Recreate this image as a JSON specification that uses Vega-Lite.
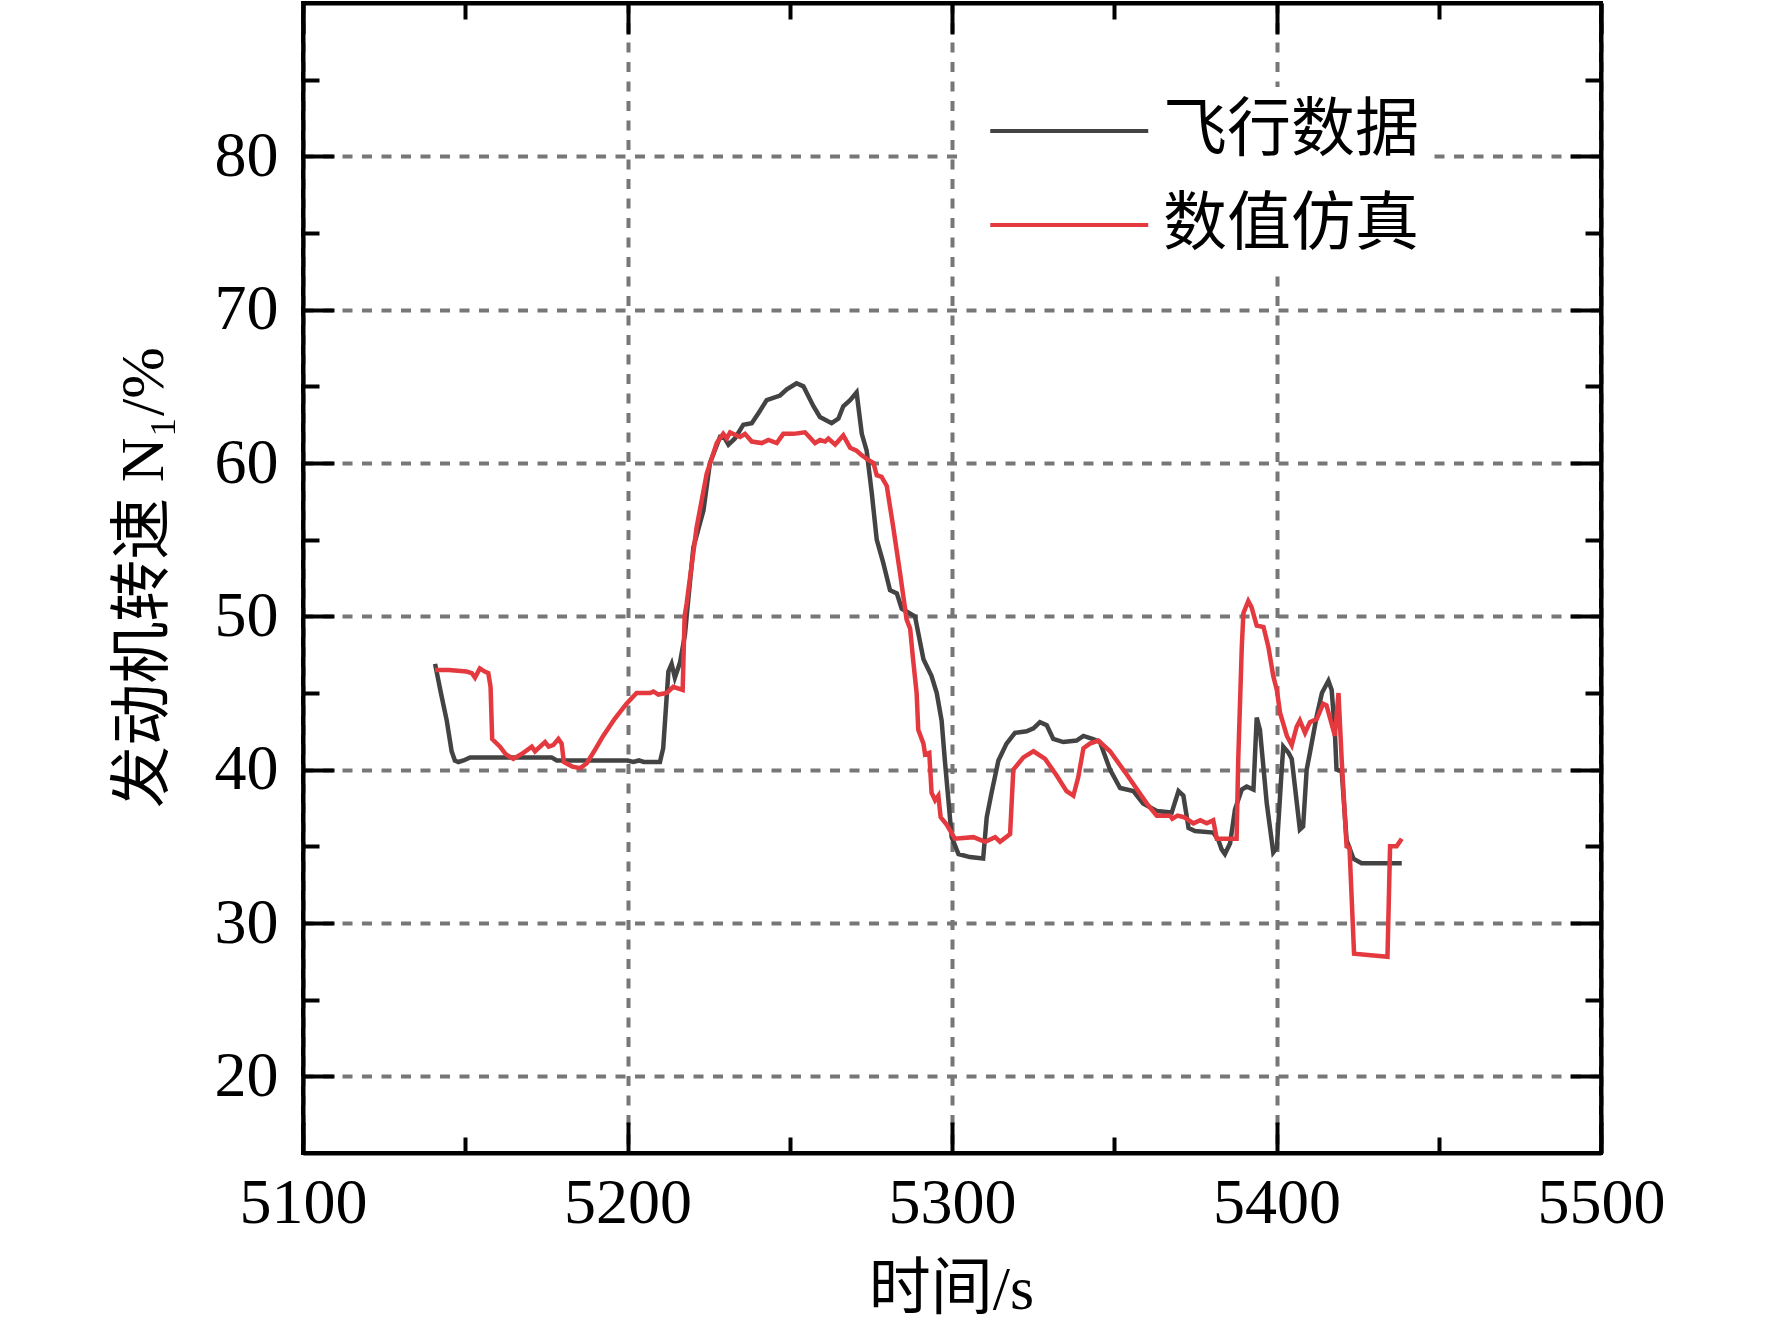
{
  "$schema": "https://vega.github.io/schema/vega-lite/v6.json",
  "autosize": "none",
  "padding": {"left": 303, "top": 3, "right": 171, "bottom": 176},
  "width": 1298,
  "height": 1150,
  "background": "white",
  "data": {
    "values": [
      {"s": "飞行数据", "t": 5140.7, "v": 46.9},
      {"s": "飞行数据", "t": 5142.5, "v": 45.0},
      {"s": "飞行数据", "t": 5144.3, "v": 43.2},
      {"s": "飞行数据", "t": 5145.8, "v": 41.2},
      {"s": "飞行数据", "t": 5146.8, "v": 40.6},
      {"s": "飞行数据", "t": 5147.9, "v": 40.5},
      {"s": "飞行数据", "t": 5149.5, "v": 40.6},
      {"s": "飞行数据", "t": 5151.5, "v": 40.8},
      {"s": "飞行数据", "t": 5160.0, "v": 40.8},
      {"s": "飞行数据", "t": 5170.0, "v": 40.8},
      {"s": "飞行数据", "t": 5176.6, "v": 40.8},
      {"s": "飞行数据", "t": 5178.2, "v": 40.6},
      {"s": "飞行数据", "t": 5190.0, "v": 40.6},
      {"s": "飞行数据", "t": 5200.0, "v": 40.6},
      {"s": "飞行数据", "t": 5201.8, "v": 40.5},
      {"s": "飞行数据", "t": 5203.5, "v": 40.6},
      {"s": "飞行数据", "t": 5205.0, "v": 40.5},
      {"s": "飞行数据", "t": 5210.0, "v": 40.5},
      {"s": "飞行数据", "t": 5211.0, "v": 41.4},
      {"s": "飞行数据", "t": 5212.6, "v": 46.4},
      {"s": "飞行数据", "t": 5213.6, "v": 46.9},
      {"s": "飞行数据", "t": 5214.6, "v": 46.0},
      {"s": "飞行数据", "t": 5216.2, "v": 47.0},
      {"s": "飞行数据", "t": 5217.7, "v": 48.8},
      {"s": "飞行数据", "t": 5218.5, "v": 50.6},
      {"s": "飞行数据", "t": 5220.3, "v": 54.5},
      {"s": "飞行数据", "t": 5223.4, "v": 56.9},
      {"s": "飞行数据", "t": 5225.4, "v": 60.0},
      {"s": "飞行数据", "t": 5228.5, "v": 61.7},
      {"s": "飞行数据", "t": 5230.0, "v": 61.6},
      {"s": "飞行数据", "t": 5231.1, "v": 61.2},
      {"s": "飞行数据", "t": 5233.1, "v": 61.6},
      {"s": "飞行数据", "t": 5235.7, "v": 62.5},
      {"s": "飞行数据", "t": 5238.3, "v": 62.6},
      {"s": "飞行数据", "t": 5240.5, "v": 63.3},
      {"s": "飞行数据", "t": 5242.9, "v": 64.1},
      {"s": "飞行数据", "t": 5247.0, "v": 64.4},
      {"s": "飞行数据", "t": 5249.1, "v": 64.8},
      {"s": "飞行数据", "t": 5252.1, "v": 65.2},
      {"s": "飞行数据", "t": 5254.2, "v": 65.0},
      {"s": "飞行数据", "t": 5257.3, "v": 63.7},
      {"s": "飞行数据", "t": 5259.3, "v": 63.0},
      {"s": "飞行数据", "t": 5262.9, "v": 62.6},
      {"s": "飞行数据", "t": 5265.0, "v": 62.9},
      {"s": "飞行数据", "t": 5266.5, "v": 63.7},
      {"s": "飞行数据", "t": 5268.6, "v": 64.1},
      {"s": "飞行数据", "t": 5270.6, "v": 64.6},
      {"s": "飞行数据", "t": 5272.2, "v": 61.9},
      {"s": "飞行数据", "t": 5273.7, "v": 60.8},
      {"s": "飞行数据", "t": 5275.3, "v": 58.0},
      {"s": "飞行数据", "t": 5276.8, "v": 55.0},
      {"s": "飞行数据", "t": 5278.8, "v": 53.5},
      {"s": "飞行数据", "t": 5280.9, "v": 51.7},
      {"s": "飞行数据", "t": 5283.0, "v": 51.5},
      {"s": "飞行数据", "t": 5284.5, "v": 50.5},
      {"s": "飞行数据", "t": 5288.6, "v": 50.0},
      {"s": "飞行数据", "t": 5291.2, "v": 47.2},
      {"s": "飞行数据", "t": 5293.7, "v": 46.1},
      {"s": "飞行数据", "t": 5295.3, "v": 45.0},
      {"s": "飞行数据", "t": 5296.8, "v": 43.2},
      {"s": "飞行数据", "t": 5297.8, "v": 40.6},
      {"s": "飞行数据", "t": 5298.9, "v": 38.0},
      {"s": "飞行数据", "t": 5299.9, "v": 35.6},
      {"s": "飞行数据", "t": 5302.0, "v": 34.5},
      {"s": "飞行数据", "t": 5305.5, "v": 34.3},
      {"s": "飞行数据", "t": 5309.6, "v": 34.2},
      {"s": "飞行数据", "t": 5310.7, "v": 36.9},
      {"s": "飞行数据", "t": 5312.2, "v": 38.5},
      {"s": "飞行数据", "t": 5314.3, "v": 40.6},
      {"s": "飞行数据", "t": 5316.8, "v": 41.7},
      {"s": "飞行数据", "t": 5319.4, "v": 42.4},
      {"s": "飞行数据", "t": 5323.0, "v": 42.5},
      {"s": "飞行数据", "t": 5325.1, "v": 42.7},
      {"s": "飞行数据", "t": 5327.1, "v": 43.1},
      {"s": "飞行数据", "t": 5329.2, "v": 42.9},
      {"s": "飞行数据", "t": 5331.2, "v": 42.0},
      {"s": "飞行数据", "t": 5334.3, "v": 41.8},
      {"s": "飞行数据", "t": 5338.4, "v": 41.9},
      {"s": "飞行数据", "t": 5340.5, "v": 42.2},
      {"s": "飞行数据", "t": 5343.5, "v": 42.0},
      {"s": "飞行数据", "t": 5345.6, "v": 41.8},
      {"s": "飞行数据", "t": 5348.7, "v": 40.0},
      {"s": "飞行数据", "t": 5351.8, "v": 38.8},
      {"s": "飞行数据", "t": 5355.9, "v": 38.6},
      {"s": "飞行数据", "t": 5358.9, "v": 37.8},
      {"s": "飞行数据", "t": 5363.1, "v": 37.3},
      {"s": "飞行数据", "t": 5367.7, "v": 37.2},
      {"s": "飞行数据", "t": 5369.8, "v": 38.6},
      {"s": "飞行数据", "t": 5371.3, "v": 38.3},
      {"s": "飞行数据", "t": 5372.9, "v": 36.2},
      {"s": "飞行数据", "t": 5374.9, "v": 36.0},
      {"s": "飞行数据", "t": 5380.5, "v": 35.9},
      {"s": "飞行数据", "t": 5382.1, "v": 35.4},
      {"s": "飞行数据", "t": 5383.1, "v": 34.8},
      {"s": "飞行数据", "t": 5384.1, "v": 34.5},
      {"s": "飞行数据", "t": 5385.7, "v": 35.2},
      {"s": "飞行数据", "t": 5387.2, "v": 37.4},
      {"s": "飞行数据", "t": 5389.3, "v": 38.7},
      {"s": "飞行数据", "t": 5390.8, "v": 38.9},
      {"s": "飞行数据", "t": 5392.9, "v": 38.7},
      {"s": "飞行数据", "t": 5393.9, "v": 43.4},
      {"s": "飞行数据", "t": 5394.9, "v": 42.6},
      {"s": "飞行数据", "t": 5397.0, "v": 37.8},
      {"s": "飞行数据", "t": 5399.0, "v": 34.6},
      {"s": "飞行数据", "t": 5400.1, "v": 34.9},
      {"s": "飞行数据", "t": 5401.6, "v": 40.0},
      {"s": "飞行数据", "t": 5402.1, "v": 41.5},
      {"s": "飞行数据", "t": 5403.7, "v": 41.1},
      {"s": "飞行数据", "t": 5404.7, "v": 40.7},
      {"s": "飞行数据", "t": 5407.2, "v": 36.1},
      {"s": "飞行数据", "t": 5408.2, "v": 36.3},
      {"s": "飞行数据", "t": 5409.3, "v": 40.0},
      {"s": "飞行数据", "t": 5410.3, "v": 41.1},
      {"s": "飞行数据", "t": 5412.4, "v": 43.5},
      {"s": "飞行数据", "t": 5414.0, "v": 45.0},
      {"s": "飞行数据", "t": 5416.0, "v": 45.8},
      {"s": "飞行数据", "t": 5417.0, "v": 45.2},
      {"s": "飞行数据", "t": 5418.0, "v": 42.4},
      {"s": "飞行数据", "t": 5418.5, "v": 40.0},
      {"s": "飞行数据", "t": 5420.1, "v": 39.9},
      {"s": "飞行数据", "t": 5421.6, "v": 35.4},
      {"s": "飞行数据", "t": 5423.7, "v": 34.2},
      {"s": "飞行数据", "t": 5426.2, "v": 33.9},
      {"s": "飞行数据", "t": 5438.6, "v": 33.9},
      {"s": "数值仿真", "t": 5140.7, "v": 46.5},
      {"s": "数值仿真", "t": 5145.0, "v": 46.5},
      {"s": "数值仿真", "t": 5150.4, "v": 46.4},
      {"s": "数值仿真", "t": 5152.0, "v": 46.3},
      {"s": "数值仿真", "t": 5153.0, "v": 46.0},
      {"s": "数值仿真", "t": 5154.5, "v": 46.6},
      {"s": "数值仿真", "t": 5156.0, "v": 46.4},
      {"s": "数值仿真", "t": 5157.1, "v": 46.3},
      {"s": "数值仿真", "t": 5157.8, "v": 45.4},
      {"s": "数值仿真", "t": 5158.3, "v": 42.0},
      {"s": "数值仿真", "t": 5160.7, "v": 41.5},
      {"s": "数值仿真", "t": 5162.5, "v": 41.0},
      {"s": "数值仿真", "t": 5164.8, "v": 40.7},
      {"s": "数值仿真", "t": 5167.9, "v": 41.1},
      {"s": "数值仿真", "t": 5170.5, "v": 41.5},
      {"s": "数值仿真", "t": 5171.5, "v": 41.2},
      {"s": "数值仿真", "t": 5174.6, "v": 41.8},
      {"s": "数值仿真", "t": 5175.7, "v": 41.5},
      {"s": "数值仿真", "t": 5177.1, "v": 41.6},
      {"s": "数值仿真", "t": 5178.7, "v": 42.0},
      {"s": "数值仿真", "t": 5179.7, "v": 41.7},
      {"s": "数值仿真", "t": 5180.4, "v": 40.5},
      {"s": "数值仿真", "t": 5183.0, "v": 40.2},
      {"s": "数值仿真", "t": 5185.4, "v": 40.1},
      {"s": "数值仿真", "t": 5187.4, "v": 40.4},
      {"s": "数值仿真", "t": 5190.0, "v": 41.3},
      {"s": "数值仿真", "t": 5192.5, "v": 42.2},
      {"s": "数值仿真", "t": 5196.0, "v": 43.3},
      {"s": "数值仿真", "t": 5199.7, "v": 44.3},
      {"s": "数值仿真", "t": 5202.8, "v": 45.0},
      {"s": "数值仿真", "t": 5207.0, "v": 45.0},
      {"s": "数值仿真", "t": 5208.0, "v": 45.1},
      {"s": "数值仿真", "t": 5209.5, "v": 44.9},
      {"s": "数值仿真", "t": 5212.1, "v": 45.0},
      {"s": "数值仿真", "t": 5214.1, "v": 45.4},
      {"s": "数值仿真", "t": 5217.0, "v": 45.2},
      {"s": "数值仿真", "t": 5217.6, "v": 50.0},
      {"s": "数值仿真", "t": 5218.2, "v": 50.8},
      {"s": "数值仿真", "t": 5221.3, "v": 55.8},
      {"s": "数值仿真", "t": 5224.4, "v": 59.3},
      {"s": "数值仿真", "t": 5227.5, "v": 61.3},
      {"s": "数值仿真", "t": 5229.5, "v": 61.9},
      {"s": "数值仿真", "t": 5230.6, "v": 61.6},
      {"s": "数值仿真", "t": 5231.6, "v": 62.0},
      {"s": "数值仿真", "t": 5234.7, "v": 61.7},
      {"s": "数值仿真", "t": 5236.2, "v": 61.9},
      {"s": "数值仿真", "t": 5238.3, "v": 61.4},
      {"s": "数值仿真", "t": 5241.4, "v": 61.3},
      {"s": "数值仿真", "t": 5243.4, "v": 61.5},
      {"s": "数值仿真", "t": 5246.0, "v": 61.3},
      {"s": "数值仿真", "t": 5248.0, "v": 61.9},
      {"s": "数值仿真", "t": 5251.1, "v": 61.9},
      {"s": "数值仿真", "t": 5254.7, "v": 62.0},
      {"s": "数值仿真", "t": 5257.8, "v": 61.3},
      {"s": "数值仿真", "t": 5259.3, "v": 61.5},
      {"s": "数值仿真", "t": 5260.9, "v": 61.4},
      {"s": "数值仿真", "t": 5261.9, "v": 61.6},
      {"s": "数值仿真", "t": 5264.0, "v": 61.2},
      {"s": "数值仿真", "t": 5266.5, "v": 61.8},
      {"s": "数值仿真", "t": 5268.6, "v": 61.0},
      {"s": "数值仿真", "t": 5270.6, "v": 60.8},
      {"s": "数值仿真", "t": 5272.2, "v": 60.5},
      {"s": "数值仿真", "t": 5274.2, "v": 60.2},
      {"s": "数值仿真", "t": 5275.8, "v": 60.0},
      {"s": "数值仿真", "t": 5276.8, "v": 59.2},
      {"s": "数值仿真", "t": 5278.3, "v": 59.1},
      {"s": "数值仿真", "t": 5279.9, "v": 58.5},
      {"s": "数值仿真", "t": 5281.9, "v": 55.8},
      {"s": "数值仿真", "t": 5284.0, "v": 52.8},
      {"s": "数值仿真", "t": 5286.0, "v": 49.8},
      {"s": "数值仿真", "t": 5287.1, "v": 49.2},
      {"s": "数值仿真", "t": 5288.0, "v": 47.2},
      {"s": "数值仿真", "t": 5289.1, "v": 45.0},
      {"s": "数值仿真", "t": 5289.6, "v": 42.6},
      {"s": "数值仿真", "t": 5291.2, "v": 41.7},
      {"s": "数值仿真", "t": 5291.7, "v": 41.0},
      {"s": "数值仿真", "t": 5293.0, "v": 41.1},
      {"s": "数值仿真", "t": 5293.7, "v": 38.5},
      {"s": "数值仿真", "t": 5294.8, "v": 38.0},
      {"s": "数值仿真", "t": 5295.8, "v": 38.3},
      {"s": "数值仿真", "t": 5296.5, "v": 36.9},
      {"s": "数值仿真", "t": 5298.4, "v": 36.4},
      {"s": "数值仿真", "t": 5300.9, "v": 35.5},
      {"s": "数值仿真", "t": 5306.6, "v": 35.6},
      {"s": "数值仿真", "t": 5310.2, "v": 35.3},
      {"s": "数值仿真", "t": 5313.3, "v": 35.6},
      {"s": "数值仿真", "t": 5314.8, "v": 35.3},
      {"s": "数值仿真", "t": 5317.9, "v": 35.8},
      {"s": "数值仿真", "t": 5318.9, "v": 40.0},
      {"s": "数值仿真", "t": 5322.0, "v": 40.8},
      {"s": "数值仿真", "t": 5325.1, "v": 41.2},
      {"s": "数值仿真", "t": 5328.7, "v": 40.7},
      {"s": "数值仿真", "t": 5332.3, "v": 39.6},
      {"s": "数值仿真", "t": 5335.3, "v": 38.6},
      {"s": "数值仿真", "t": 5337.4, "v": 38.3},
      {"s": "数值仿真", "t": 5338.9, "v": 39.5},
      {"s": "数值仿真", "t": 5340.5, "v": 41.4},
      {"s": "数值仿真", "t": 5342.5, "v": 41.7},
      {"s": "数值仿真", "t": 5345.1, "v": 41.9},
      {"s": "数值仿真", "t": 5348.7, "v": 41.2},
      {"s": "数值仿真", "t": 5353.8, "v": 39.7},
      {"s": "数值仿真", "t": 5360.0, "v": 37.8},
      {"s": "数值仿真", "t": 5363.1, "v": 37.0},
      {"s": "数值仿真", "t": 5367.2, "v": 37.0},
      {"s": "数值仿真", "t": 5367.9, "v": 36.8},
      {"s": "数值仿真", "t": 5369.5, "v": 37.0},
      {"s": "数值仿真", "t": 5371.5, "v": 36.9},
      {"s": "数值仿真", "t": 5374.4, "v": 36.5},
      {"s": "数值仿真", "t": 5376.5, "v": 36.7},
      {"s": "数值仿真", "t": 5378.5, "v": 36.5},
      {"s": "数值仿真", "t": 5380.5, "v": 36.7},
      {"s": "数值仿真", "t": 5381.6, "v": 35.5},
      {"s": "数值仿真", "t": 5387.7, "v": 35.5},
      {"s": "数值仿真", "t": 5388.2, "v": 40.6},
      {"s": "数值仿真", "t": 5389.3, "v": 48.0},
      {"s": "数值仿真", "t": 5389.8, "v": 50.2},
      {"s": "数值仿真", "t": 5391.3, "v": 51.0},
      {"s": "数值仿真", "t": 5392.3, "v": 50.6},
      {"s": "数值仿真", "t": 5393.9, "v": 49.4},
      {"s": "数值仿真", "t": 5396.0, "v": 49.3},
      {"s": "数值仿真", "t": 5397.5, "v": 48.0},
      {"s": "数值仿真", "t": 5399.0, "v": 46.1},
      {"s": "数值仿真", "t": 5400.1, "v": 45.2},
      {"s": "数值仿真", "t": 5401.1, "v": 43.7},
      {"s": "数值仿真", "t": 5403.2, "v": 42.2},
      {"s": "数值仿真", "t": 5404.7, "v": 41.6},
      {"s": "数值仿真", "t": 5406.2, "v": 42.8},
      {"s": "数值仿真", "t": 5407.2, "v": 43.2},
      {"s": "数值仿真", "t": 5408.8, "v": 42.4},
      {"s": "数值仿真", "t": 5410.3, "v": 43.1},
      {"s": "数值仿真", "t": 5412.4, "v": 43.3},
      {"s": "数值仿真", "t": 5414.4, "v": 44.3},
      {"s": "数值仿真", "t": 5415.4, "v": 44.2},
      {"s": "数值仿真", "t": 5418.0, "v": 42.2},
      {"s": "数值仿真", "t": 5419.1, "v": 45.0},
      {"s": "数值仿真", "t": 5420.1, "v": 40.6},
      {"s": "数值仿真", "t": 5421.6, "v": 35.0},
      {"s": "数值仿真", "t": 5422.5, "v": 34.9},
      {"s": "数值仿真", "t": 5423.9, "v": 28.0},
      {"s": "数值仿真", "t": 5434.2, "v": 27.8},
      {"s": "数值仿真", "t": 5435.0, "v": 35.0},
      {"s": "数值仿真", "t": 5437.0, "v": 35.0},
      {"s": "数值仿真", "t": 5438.6, "v": 35.5}
    ]
  },
  "layer": [
    {
      "mark": {"type": "line", "strokeWidth": 4.5},
      "encoding": {
        "x": {
          "field": "t",
          "type": "quantitative",
          "scale": {"domain": [5100, 5500], "nice": false, "zero": false},
          "axis": {
            "orient": "bottom",
            "values": [5100, 5150, 5200, 5250, 5300, 5350, 5400, 5450, 5500],
            "format": "d",
            "labelExpr": "datum.value % 100 === 0 ? datum.label : ''",
            "labelFlush": false,
            "labelOverlap": false,
            "grid": true,
            "gridOpacity": {"condition": {"test": "datum.value % 100 === 0", "value": 1}, "value": 0},
            "tickSize": {"expr": "datum.value % 100 === 0 ? -31 : -16"},
            "labelPadding": 49,
            "labelBaseline": "top",
            "title": "时间/s",
            "titleX": 648,
            "titleY": 106,
            "titleBaseline": "top"
          }
        },
        "y": {
          "field": "v",
          "type": "quantitative",
          "scale": {"domain": [15, 90], "nice": false, "zero": false},
          "axis": {
            "orient": "left",
            "values": [20, 25, 30, 35, 40, 45, 50, 55, 60, 65, 70, 75, 80, 85],
            "format": "d",
            "labelExpr": "datum.value % 10 === 0 ? datum.label : ''",
            "labelFlush": false,
            "labelOverlap": false,
            "grid": true,
            "gridOpacity": {"condition": {"test": "datum.value % 10 === 0", "value": 1}, "value": 0},
            "tickSize": {"expr": "datum.value % 10 === 0 ? -31 : -16"},
            "labelPadding": 56,
            "title": "发动机转速 N₁/%",
            "titleX": -128,
            "titleY": 574,
            "titleBaseline": "bottom"
          }
        },
        "color": {
          "field": "s",
          "type": "nominal",
          "scale": {"domain": ["飞行数据", "数值仿真"], "range": ["#434343", "#e4393e"]},
          "legend": {
            "orient": "none",
            "legendX": 663,
            "legendY": 84,
            "title": null,
            "symbolType": "M-1,0H7",
            "symbolSize": 1560,
            "symbolStrokeWidth": 4,
            "labelFont": "Liberation Serif, Noto Sans CJK SC",
            "labelFontSize": 64,
            "labelColor": "black",
            "labelOffset": 121,
            "labelLimit": 0,
            "rowPadding": 30,
            "padding": 12,
            "fillColor": "white"
          }
        }
      }
    },
    {
      "mark": {"type": "line", "strokeOpacity": 0},
      "encoding": {
        "x": {
          "field": "t",
          "type": "quantitative",
          "axis": {
            "orient": "top",
            "values": [5100, 5150, 5200, 5250, 5300, 5350, 5400, 5450, 5500],
            "labels": false,
            "grid": false,
            "title": null,
            "tickSize": {"expr": "datum.value % 100 === 0 ? -31 : -16"}
          }
        },
        "y": {
          "field": "v",
          "type": "quantitative",
          "axis": {
            "orient": "right",
            "values": [20, 25, 30, 35, 40, 45, 50, 55, 60, 65, 70, 75, 80, 85],
            "labels": false,
            "grid": false,
            "title": null,
            "tickSize": {"expr": "datum.value % 10 === 0 ? -31 : -16"}
          }
        },
        "detail": {"field": "s"}
      }
    }
  ],
  "resolve": {"axis": {"x": "independent", "y": "independent"}},
  "config": {
    "view": {"stroke": "black", "strokeWidth": 4},
    "axis": {
      "labelFont": "Liberation Serif",
      "labelFontSize": 64,
      "labelColor": "black",
      "titleFont": "Liberation Serif, Noto Sans CJK SC",
      "titleFontSize": 62,
      "titleFontWeight": "normal",
      "titleColor": "black",
      "domainColor": "black",
      "domainWidth": 4,
      "tickColor": "black",
      "tickWidth": 4,
      "gridColor": "#777777",
      "gridWidth": 4,
      "gridDash": [10, 9.5]
    }
  }
}
